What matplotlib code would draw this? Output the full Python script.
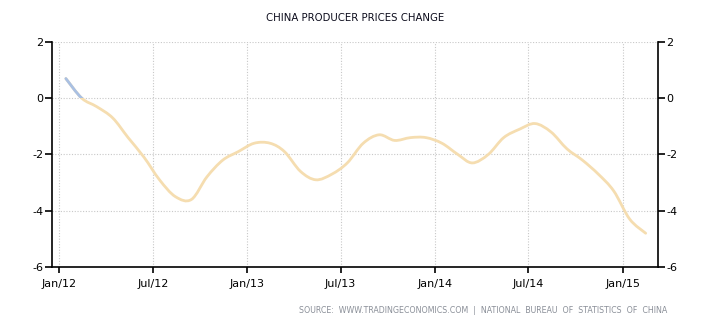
"""China producer prices change, Jan 2012 - Feb 2015 (tradingeconomics style)."""

import datetime as dt

import numpy as np
import matplotlib
matplotlib.use("Agg")
import matplotlib.pyplot as plt
import matplotlib.dates as mdates
from matplotlib.path import Path
from matplotlib.patches import PathPatch, Rectangle

# monthly PPI y/y change, %
MONTHS = [(2012, m) for m in range(1, 13)] + [(2013, m) for m in range(1, 13)] \
    + [(2014, m) for m in range(1, 13)] + [(2015, 1), (2015, 2)]
PPI = [0.7, 0.0, -0.3, -0.7, -1.4, -2.1, -2.9, -3.5, -3.6, -2.8, -2.2, -1.9,
       -1.6, -1.6, -1.9, -2.6, -2.9, -2.7, -2.3, -1.6, -1.3, -1.5, -1.4, -1.4,
       -1.6, -2.0, -2.3, -2.0, -1.4, -1.1, -0.9, -1.2, -1.8, -2.2, -2.7, -3.3,
       -4.3, -4.8]

TICK_DATES = [dt.date(2012, 1, 1), dt.date(2012, 7, 1), dt.date(2013, 1, 1), dt.date(2013, 7, 1),
              dt.date(2014, 1, 1), dt.date(2014, 7, 1), dt.date(2015, 1, 1)]
TICK_LABELS = ["Jan/12", "Jul/12", "Jan/13", "Jul/13", "Jan/14", "Jul/14", "Jan/15"]
Y_TICKS = [-6, -4, -2, 0, 2]

NEG_COLOR = "#f5ddb0"
POS_COLOR = "#a9c0e3"


def smooth_path(x, y):
    # Catmull-Rom through the points, as cubic bezier segments
    p = np.column_stack([x, y])
    p_ext = np.vstack([p[0], p, p[-1]])
    verts = [p[0]]
    codes = [Path.MOVETO]
    for i in range(len(p) - 1):
        p0, p1, p2, p3 = p_ext[i], p_ext[i + 1], p_ext[i + 2], p_ext[i + 3]
        verts += [p1 + (p2 - p0) / 6, p2 - (p3 - p1) / 6, p2]
        codes += [Path.CURVE4] * 3
    return Path(verts, codes)


def main():
    fig = plt.figure(figsize=(7.1, 3.25), dpi=100)
    ax = fig.add_axes([0.0732, 0.1785, 0.8536, 0.6923])

    x = mdates.date2num([dt.date(y, m, 14) for y, m in MONTHS])
    path = smooth_path(x, np.array(PPI))

    ax.add_patch(PathPatch(path, facecolor="none", edgecolor=NEG_COLOR, lw=2.0,
                           capstyle="round", zorder=3))
    pos = PathPatch(path, facecolor="none", edgecolor=POS_COLOR, lw=2.0,
                    capstyle="round", zorder=4)
    ax.add_patch(pos)
    clip = Rectangle((x[0] - 60, 0), 200, 5, transform=ax.transData)
    pos.set_clip_path(clip)

    ax.set_xlim(mdates.date2num(dt.date(2011, 12, 18)), mdates.date2num(dt.date(2015, 3, 10)))
    ax.set_ylim(-6, 2)
    ax.set_xticks(mdates.date2num(TICK_DATES))
    ax.set_xticklabels(TICK_LABELS)
    ax.set_yticks(Y_TICKS)
    ax.set_yticklabels([str(v) for v in Y_TICKS])

    ax.grid(True, color="#c8c8c8", linestyle=(0, (1, 1.5)), lw=0.8)
    ax.set_axisbelow(True)
    ax.spines["top"].set_visible(False)
    for s in ("left", "right", "bottom"):
        ax.spines[s].set_linewidth(1.2)
        ax.spines[s].set_color("black")

    ax.tick_params(axis="y", which="both", left=True, right=True, labelleft=True,
                   labelright=True, direction="out", length=5, width=1.2,
                   labelsize=8, pad=1)
    ax.tick_params(axis="x", direction="out", length=4, width=1.2, labelsize=8, pad=5)

    fig.text(0.5, 0.945, "CHINA PRODUCER PRICES CHANGE", ha="center", va="center",
             fontsize=7.3, color="#0a0a1a")
    fig.text(0.94, 0.045,
             "SOURCE:  WWW.TRADINGECONOMICS.COM  |  NATIONAL  BUREAU  OF  STATISTICS  OF  CHINA",
             ha="right", va="center", fontsize=5.7, color="#8a8f98")

    fig.savefig("out.png", dpi=100)
    plt.close(fig)


if __name__ == "__main__":
    main()
